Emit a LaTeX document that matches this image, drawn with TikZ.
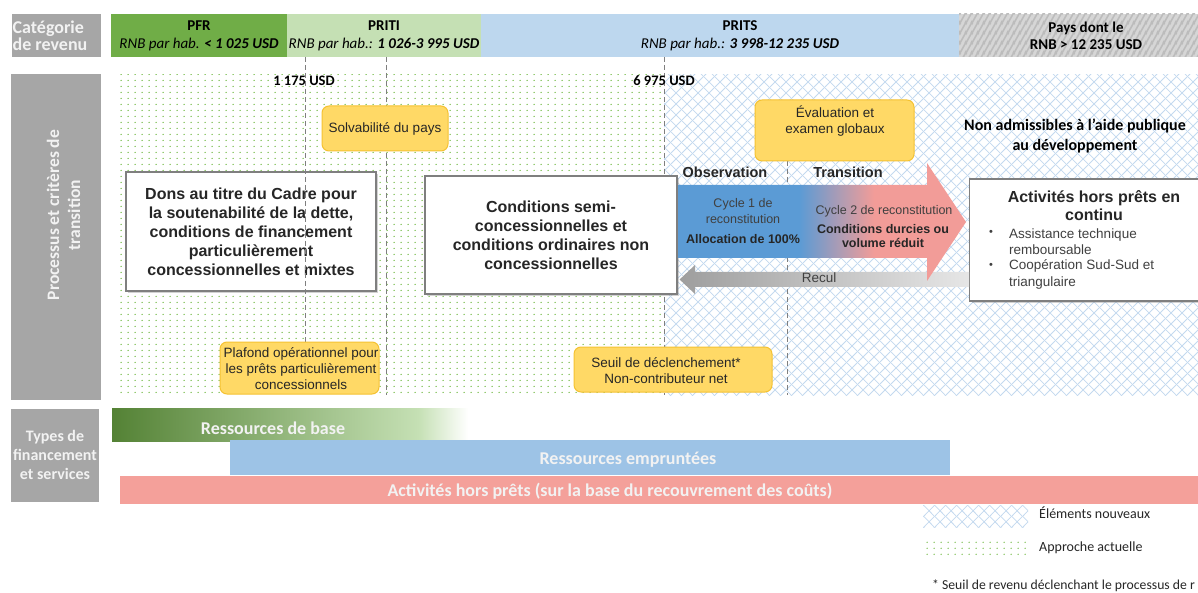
\documentclass[tikz,border=0pt]{standalone}
\usepackage{fontspec}
\setmainfont{Liberation Sans}
\newfontfamily\carlito{Carlito}
\usetikzlibrary{patterns.meta,shadows}
\definecolor{labgray}{HTML}{A6A6A6}
\definecolor{labtxt}{HTML}{F2F2F2}
\definecolor{pfrg}{HTML}{70AD47}
\definecolor{pritig}{HTML}{C5E0B4}
\definecolor{pritsb}{HTML}{BDD7EE}
\definecolor{paysg}{HTML}{D6D6D6}
\definecolor{stripeg}{HTML}{BCBCBC}
\definecolor{dotg}{HTML}{7DBF52}
\definecolor{xhb}{HTML}{C3D9EF}
\definecolor{yfill}{HTML}{FFD966}
\definecolor{yline}{HTML}{F5C232}
\definecolor{wline}{HTML}{7F7F7F}
\definecolor{txt}{HTML}{262626}
\definecolor{txtb}{HTML}{404040}
\definecolor{dashgray}{HTML}{7F7F7F}
\definecolor{arrblue}{HTML}{5B9BD5}
\definecolor{arrpink}{HTML}{F29C98}
\definecolor{recdark}{HTML}{9E9E9E}
\definecolor{reclight}{HTML}{E6E6E6}
\definecolor{barblue}{HTML}{9DC3E6}
\definecolor{barpink}{HTML}{F4A09A}
\definecolor{dkgreen}{HTML}{548235}
\definecolor{ltgreen}{HTML}{C5E0B4}
\definecolor{bartxt}{HTML}{F2F2F2}
\pgfdeclarehorizontalshading{basegrad}{100bp}{color(0bp)=(dkgreen); color(25bp)=(dkgreen); color(68bp)=(ltgreen); color(75bp)=(white); color(100bp)=(white)}
\pgfdeclarehorizontalshading{arrgrad}{100bp}{color(0bp)=(arrblue); color(46bp)=(arrblue); color(59bp)=(arrpink); color(100bp)=(arrpink)}
\tikzdeclarepattern{
  name=gdots,
  bounding box={(0pt,0pt) and (6.6pt,6pt)},
  tile size={(6.6pt,6pt)},
  code={\pgfpathcircle{\pgfpoint{3.3pt}{3pt}}{0.8pt}\pgfusepath{fill}}
}
\tikzdeclarepattern{
  name=xhatch,
  bounding box={(0pt,0pt) and (11pt,11pt)},
  tile size={(11pt,11pt)},
  code={\pgfsetlinewidth{0.8pt}
    \pgfpathmoveto{\pgfpoint{-1pt}{-1pt}}\pgfpathlineto{\pgfpoint{12pt}{12pt}}
    \pgfpathmoveto{\pgfpoint{-1pt}{12pt}}\pgfpathlineto{\pgfpoint{12pt}{-1pt}}
    \pgfusepath{stroke}}
}
\tikzdeclarepattern{
  name=gstripe,
  bounding box={(0pt,0pt) and (6pt,10pt)},
  tile size={(6pt,10pt)},
  code={\pgfsetlinewidth{1.8pt}
    \pgfpathmoveto{\pgfpoint{-12pt}{-10pt}}\pgfpathlineto{\pgfpoint{6pt}{20pt}}
    \pgfpathmoveto{\pgfpoint{-6pt}{-10pt}}\pgfpathlineto{\pgfpoint{12pt}{20pt}}
    \pgfpathmoveto{\pgfpoint{0pt}{-10pt}}\pgfpathlineto{\pgfpoint{18pt}{20pt}}
    \pgfusepath{stroke}}
}
\tikzset{
  lab/.style={fill=labgray, inner sep=0pt},
  labtext/.style={text=labtxt, inner sep=0pt, align=center, font=\carlito\bfseries\fontsize{17.5}{21}\selectfont},
  hdr/.style={inner sep=0pt, align=center, text=black, font=\carlito\fontsize{15}{18}\selectfont},
  wbox/.style={fill=white, draw=wline, line width=1.2pt, inner sep=0pt, align=center, text=txt,
    font=\bfseries\fontsize{16}{19}\selectfont,
    drop shadow={shadow xshift=2pt, shadow yshift=-2.5pt, opacity=0.35}},
  ybox/.style={fill=yfill, draw=yline, line width=1pt, rounded corners=7pt, inner sep=0pt, align=center, text=txt,
    font=\fontsize{13.5}{16}\selectfont},
  ytext/.style={inner sep=0pt, align=center, text=txt, font=\fontsize{13.5}{16}\selectfont},
  dline/.style={draw=dashgray, line width=0.8pt, dash pattern=on 5pt off 3pt},
  usd/.style={inner sep=0pt, text=black, font=\carlito\bfseries\fontsize{14.5}{17}\selectfont},
  phase/.style={inner sep=0pt, text=txt, font=\bfseries\fontsize{14.5}{17}\selectfont},
  atxt/.style={inner sep=0pt, align=center, text=txtb, font=\fontsize{12.5}{16}\selectfont},
  abold/.style={inner sep=0pt, align=center, text=txt, font=\bfseries\fontsize{12.5}{14.5}\selectfont},
  bartext/.style={inner sep=0pt, text=bartxt, font=\carlito\bfseries\fontsize{18}{20}\selectfont},
  legtext/.style={inner sep=0pt, anchor=west, text=txt, font=\carlito\fontsize{14}{16}\selectfont},
  bul/.style={inner sep=0pt, align=left, anchor=west, text=txtb, font=\fontsize{13.5}{16.5}\selectfont}
}
\begin{document}
\begin{tikzpicture}[x=1pt,y=-1pt]
\clip (0,0) rectangle (1198,593);
\fill[white] (0,0) rectangle (1198,593);

% ---------- header row ----------
\node[lab, minimum width=89, minimum height=43] (catbox) at (56.5,35.5) {};
\node[labtext, anchor=west, align=left, font=\carlito\bfseries\fontsize{18}{17}\selectfont] (cat) at (12.5,35.5) {Catégorie\\de revenu};
\node[hdr, fill=pfrg, minimum width=176, minimum height=43] (pfr) at (199,35.5) {\textbf{PFR}\\\textit{RNB par hab.} \textbf{\textit{<~1~025~USD}}};
\node[hdr, fill=pritig, minimum width=194, minimum height=43] (priti) at (384,35.5) {\textbf{PRITI}\\\textit{RNB par hab.:} \textbf{\textit{1~026-3~995~USD}}};
\node[hdr, fill=pritsb, minimum width=478, minimum height=43] (prits) at (720,35.5) {};
\node[hdr] (pritst) at (740,35.5) {\textbf{PRITS}\\\textit{RNB par hab.:} \textbf{\textit{3~998-12~235~USD}}};
\node[hdr, fill=paysg, postaction={pattern=gstripe, pattern color=stripeg}, minimum width=240, minimum height=43] (pays) at (1079,35.5) {};
\node[hdr, font=\carlito\bfseries\fontsize{15}{17}\selectfont] (payst) at (1086,35.5) {Pays dont le\\RNB >~12~235~USD};

% ---------- process area ----------
\node[lab, minimum width=90, minimum height=326] (procbox) at (56,237) {};
\node[labtext, rotate=90] (proc) at (63.5,215) {Processus et critères de\\transition};
\fill[pattern=gdots, pattern color=dotg] (120,75) rectangle (664,395);
\fill[pattern=xhatch, pattern color=xhb] (664,75) rectangle (1198,395);

\coordinate (d2t) at (386,57); \coordinate (d2b) at (386,395);
\coordinate (d3t) at (664,57); \coordinate (d3b) at (664,395);
\coordinate (d4t) at (787,161); \coordinate (d4b) at (787,395);
\draw[dline] (d2t) -- (d2b);
\draw[dline] (d3t) -- (d3b);
\draw[dline] (d4t) -- (d4b);

\node[wbox, minimum width=250, minimum height=119] (dons) at (251,231.5)
  {Dons au titre du Cadre pour\\la soutenabilité de la dette,\\conditions de financement\\particulièrement\\concessionnelles et mixtes};
\coordinate (d1t) at (305,57); \coordinate (d1b) at (305,342);
\draw[dline] (d1t) -- (d1b);

\node[wbox, minimum width=252, minimum height=118] (cond) at (551,235)
  {Conditions semi-\\concessionnelles et\\conditions ordinaires non\\concessionnelles};

\node[ybox, minimum width=126, minimum height=45] (solv) at (385,128.5) {Solvabilité du pays};
\node[ybox, minimum width=159, minimum height=52] (plaf) at (299.5,368) {};
\node[ytext] (plaft) at (301,369) {Plafond opérationnel pour\\les prêts particulièrement\\concessionnels};
\node[ybox, minimum width=198, minimum height=45] (seuil) at (673,369.5) {};
\node[ytext] (seuilt) at (666,370.5) {Seuil de déclenchement*\\Non-contributeur net};
\node[ybox, minimum width=159, minimum height=61] (eval) at (834.5,130.5) {};
\node[ytext] (evalt) at (835,121) {Évaluation et\\examen globaux};

\node[usd] (u1) at (304,81) {1~175~USD};
\node[usd] (u2) at (664,81) {6~975~USD};

\node[inner sep=0pt, align=center, text=black, font=\carlito\bfseries\fontsize{16}{20}\selectfont] (nonadm) at (1075,136)
  {Non admissibles à l’aide publique\\au développement};

% ---------- activities box ----------
\node[wbox, minimum width=250, minimum height=122, anchor=west] (act) at (969,240) {};

% ---------- arrows ----------
\coordinate (rt) at (cond.east);
\shade[left color=recdark, right color=reclight]
  ([xshift=2pt]rt |- 0,279.5) -- (695,265) -- (695,272) -- (act.west |- 0,272) -- (act.west |- 0,287) -- (695,287) -- (695,294) -- cycle;
\node[inner sep=0pt, text=txtb, font=\fontsize{13.5}{16}\selectfont] (recul) at (819,278) {Recul};

\shade[shading=arrgrad]
  (678,185) -- (927,185) -- (927,163) -- (966,222) -- (927,281) -- (927,258) -- (678,258) -- cycle;

\node[phase] (obs) at (725,172) {Observation};
\node[phase] (trans) at (848,172) {Transition};
\node[atxt] (c1) at (743,211) {Cycle 1 de\\reconstitution};
\node[abold] (c1b) at (743,239) {Allocation de 100\%};
\node[atxt] (c2) at (884,211) {Cycle 2 de reconstitution};
\node[abold] (c2b) at (883,236) {Conditions durcies ou\\volume réduit};

\node[inner sep=0pt, align=center, text=txt, font=\bfseries\fontsize{16}{18}\selectfont] (actt) at (1094,205.5)
  {Activités hors prêts en\\continu};
\node[inner sep=0pt, text=txtb, font=\fontsize{11}{12}\selectfont] (b1) at (991,233) {•};
\node[bul] (b1t) at (1009,241.5) {Assistance technique\\remboursable};
\node[inner sep=0pt, text=txtb, font=\fontsize{11}{12}\selectfont] (b2) at (991,266) {•};
\node[bul] (b2t) at (1009,274.5) {Coopération Sud-Sud et\\triangulaire};

% ---------- financing types ----------
\node[lab, minimum width=88, minimum height=93] (typbox) at (55,455.5) {};
\node[labtext, font=\carlito\bfseries\fontsize{16}{19}\selectfont] (typ) at (55,455) {Types de\\financement\\et services};

\node[minimum width=356, minimum height=33, inner sep=0pt, shade, shading=basegrad] (rbase) at (290,424.5) {};
\node[bartext] (rbaset) at (273,428) {Ressources de base};
\node[fill=barblue, minimum width=720, minimum height=35, inner sep=0pt] (remp) at (590,457.5) {};
\node[bartext] (rempt) at (628,460) {Ressources empruntées};
\node[fill=barpink, minimum width=1078, minimum height=28, inner sep=0pt] (rhp) at (659,490) {};
\node[bartext] (rhpt) at (610,491) {Activités hors prêts (sur la base du recouvrement des coûts)};

% ---------- legend ----------
\node[minimum width=105, minimum height=22, inner sep=0pt, pattern=xhatch, pattern color=xhb] (lg1) at (975.5,516) {};
\node[legtext] (lg1t) at (1039,513) {Éléments nouveaux};
\node[minimum width=105, minimum height=19, inner sep=0pt, pattern=gdots, pattern color=dotg] (lg2) at (975.5,547.5) {};
\node[legtext] (lg2t) at (1039,548) {Approche actuelle};
\node[legtext, font=\carlito\fontsize{13.7}{16}\selectfont] (foot) at (932,586) {* Seuil de revenu déclenchant le processus de r};
\end{tikzpicture}
\end{document}
